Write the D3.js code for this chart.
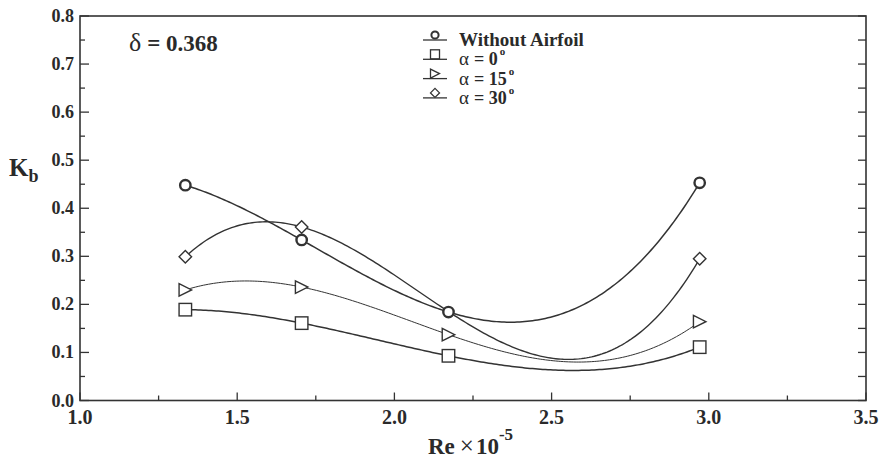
<!DOCTYPE html>
<html>
<head>
<meta charset="utf-8">
<script src="https://cdn.jsdelivr.net/npm/d3@7"></script>
<style>
  html, body { margin: 0; padding: 0; background: #ffffff; }
  svg { display: block; }
</style>
</head>
<body>
<svg id="chart" width="882" height="462"></svg>
<script>
// Reynolds numbers (×10^-5) at which K_b was measured
const reValues = [1.335, 1.705, 2.172, 2.971];

// K_b for each configuration
const withoutAirfoil = [0.448, 0.334, 0.184, 0.453];
const alpha0  = [0.189, 0.161, 0.093, 0.111];
const alpha15 = [0.230, 0.236, 0.137, 0.164];
const alpha30 = [0.299, 0.361, 0.185, 0.295];
// the alpha = 30 point at the third Re sits under the "without airfoil" marker
const alpha30Shown = [true, true, false, true];

const xTicks = [1.0, 1.5, 2.0, 2.5, 3.0, 3.5];
const yTicks = [0.0, 0.1, 0.2, 0.3, 0.4, 0.5, 0.6, 0.7, 0.8];

const series = [
  { name: "Without Airfoil", values: withoutAirfoil, symbol: "circle",   width: 1.5, shown: [true, true, true, true] },
  { name: "0",  values: alpha0,  symbol: "square",   width: 1.5, shown: [true, true, true, true] },
  { name: "15", values: alpha15, symbol: "triangle", width: 1.0, shown: [true, true, true, true] },
  { name: "30", values: alpha30, symbol: "diamond",  width: 1.4, shown: alpha30Shown }
];

const ink = "#333333";
const serif = '"Liberation Serif"';
const svg = d3.select("#chart");

const x = d3.scaleLinear().domain([1.0, 3.5]).range([80, 866]);
const y = d3.scaleLinear().domain([0.0, 0.8]).range([400.5, 16]);

// cubic polynomial passing through the four measured points of a series
function cubicFit(xs, ys) {
  return t => {
    let s = 0;
    for (let i = 0; i < xs.length; i++) {
      let l = 1;
      for (let j = 0; j < xs.length; j++) {
        if (j !== i) l *= (t - xs[j]) / (xs[i] - xs[j]);
      }
      s += ys[i] * l;
    }
    return s;
  };
}

function label(g) {
  return g.append("text").style("font-family", serif).attr("fill", "#2a2a2a");
}

// frame
svg.append("rect")
  .attr("x", x(1.0)).attr("y", y(0.8))
  .attr("width", x(3.5) - x(1.0)).attr("height", y(0.0) - y(0.8))
  .attr("fill", "none").attr("stroke", ink).attr("stroke-width", 1.6);

// left and right ticks every 0.05
const yFine = d3.range(0, 17).map(i => i * 0.05);
svg.append("g").selectAll("line").data(yFine).join("line")
  .attr("x1", x(1.0)).attr("x2", (d, i) => x(1.0) + (i % 2 === 0 ? 9 : 5))
  .attr("y1", d => y(d)).attr("y2", d => y(d))
  .attr("stroke", ink).attr("stroke-width", 1.3);
svg.append("g").selectAll("line").data(yFine).join("line")
  .attr("x1", x(3.5)).attr("x2", x(3.5) - 8)
  .attr("y1", d => y(d)).attr("y2", d => y(d))
  .attr("stroke", ink).attr("stroke-width", 1.3);

// bottom ticks every 0.25
const xFine = d3.range(0, 11).map(i => 1.0 + i * 0.25);
svg.append("g").selectAll("line").data(xFine).join("line")
  .attr("x1", d => x(d)).attr("x2", d => x(d))
  .attr("y1", y(0)).attr("y2", (d, i) => y(0) - (i % 2 === 0 ? 8 : 5))
  .attr("stroke", ink).attr("stroke-width", 1.3);

// tick labels
const yLab = svg.append("g");
yTicks.forEach(d => {
  label(yLab).attr("x", 74).attr("y", y(d) + 6)
    .attr("text-anchor", "end")
    .attr("font-size", 18).attr("font-weight", "bold")
    .text(d.toFixed(1));
});
const xLab = svg.append("g");
xTicks.forEach(d => {
  label(xLab).attr("x", x(d)).attr("y", 424)
    .attr("text-anchor", "middle")
    .attr("font-size", 20).attr("font-weight", "bold")
    .text(d.toFixed(1));
});

// axis titles
const kb = label(svg).attr("x", 9).attr("y", 176)
  .attr("font-size", 25).attr("font-weight", "bold");
kb.append("tspan").text("K");
kb.append("tspan").attr("font-size", 18).attr("dy", 6).text("b");

const reTitle = label(svg).attr("x", 428).attr("y", 454)
  .attr("font-size", 23).attr("font-weight", "bold");
reTitle.append("tspan").text("Re");
reTitle.append("tspan").attr("font-weight", "normal").attr("font-size", 25).attr("dx", 5).text("×");
reTitle.append("tspan").attr("dx", 2).text("10");
reTitle.append("tspan").attr("font-size", 17).attr("dy", -14).text("-5");

// delta annotation
const delta = label(svg).attr("x", 129).attr("y", 51).attr("font-size", 26);
delta.append("tspan").text("δ");
delta.append("tspan").attr("font-weight", "bold").attr("font-size", 23).attr("dx", 6).text("= 0.368");

// marker shapes
function drawSymbol(g, kind, cx, cy, s, sw) {
  const h = s / 2;
  let el;
  if (kind === "circle") {
    el = g.append("circle").attr("cx", cx).attr("cy", cy).attr("r", h * 0.8);
  } else if (kind === "square") {
    el = g.append("rect").attr("x", cx - h).attr("y", cy - h).attr("width", s).attr("height", s);
  } else if (kind === "triangle") {
    el = g.append("path").attr("d", `M${cx - h},${cy - h}L${cx + h},${cy}L${cx - h},${cy + h}Z`);
  } else {
    el = g.append("path").attr("d", `M${cx},${cy - h}L${cx + h},${cy}L${cx},${cy + h}L${cx - h},${cy}Z`);
  }
  el.attr("fill", "#ffffff").attr("stroke", ink).attr("stroke-width", sw);
}

// fitted curves
const line = d3.line().x(d => x(d[0])).y(d => y(d[1]));
const plot = svg.append("g");
series.forEach(s => {
  const f = cubicFit(reValues, s.values);
  const lo = reValues[0], hi = reValues[reValues.length - 1];
  const pts = d3.range(0, 201).map(i => {
    const t = lo + (hi - lo) * i / 200;
    return [t, f(t)];
  });
  plot.append("path").attr("d", line(pts))
    .attr("fill", "none").attr("stroke", ink).attr("stroke-width", s.width);
});

// data markers
const markers = svg.append("g");
series.slice().reverse().forEach(s => {
  reValues.forEach((r, i) => {
    if (!s.shown[i]) return;
    const big = s.symbol === "circle";
    drawSymbol(markers, s.symbol, x(r), y(s.values[i]), big ? 13 : 12.5, big ? 2.4 : 1.4);
  });
});

// legend
const legend = svg.append("g");
series.forEach((s, i) => {
  const base = 46 + i * 19.3;
  legend.append("line").attr("x1", 423).attr("x2", 447)
    .attr("y1", base - 6).attr("y2", base - 6)
    .attr("stroke", ink).attr("stroke-width", 1.3);
  drawSymbol(legend, s.symbol, 435, base - 11, 9, s.symbol === "circle" ? 2 : 1.3);
  const t = label(legend).attr("x", 459).attr("y", base).attr("font-size", 18);
  if (i === 0) {
    t.attr("font-weight", "bold").attr("font-size", 19).text(s.name);
  } else {
    t.append("tspan").attr("font-size", 19).text("α");
    t.append("tspan").attr("font-weight", "bold").attr("dx", 5).text("= " + s.name);
    t.append("tspan").attr("font-size", 11).attr("font-weight", "bold").attr("dy", -10).attr("dx", 2).text("o");
  }
});
</script>
</body>
</html>
